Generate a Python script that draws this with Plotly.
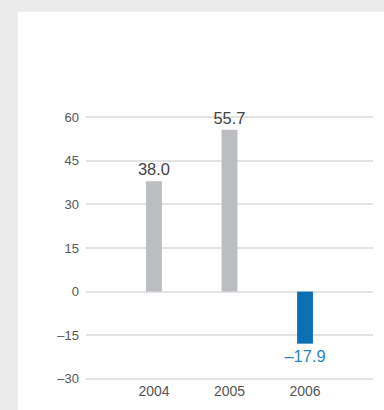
import plotly.graph_objects as go

years = ["2004", "2005", "2006"]
values = [38.0, 55.7, -17.9]
labels = ["38.0", "55.7", "–17.9"]
bar_colors = ["#bcbdc0", "#bcbdc0", "#0a6fb4"]
label_colors = ["#444444", "#444444", "#2b85c6"]
y_tickvals = [-30, -15, 0, 15, 30, 45, 60]
y_ticktext = ["–30", "–15", "0", "15", "30", "45", "60"]

W, H = 384, 410
L, R, T, B = 86, 11, 116, 28
pw, ph = W - L - R, H - T - B

fig = go.Figure()
fig.add_trace(go.Bar(
    x=years, y=values, width=0.21,
    marker=dict(color=bar_colors, line=dict(width=0)),
    text=labels, textposition="outside", cliponaxis=False,
    constraintext="none",
    textfont=dict(size=16.5, color=label_colors, family="Liberation Sans"),
    hoverinfo="skip",
))

# white panel on gray background
fig.add_shape(type="rect", xref="paper", yref="paper", layer="below",
              x0=(18 - L) / pw, x1=(W + 5 - L) / pw,
              y0=(T + ph - (H + 5)) / ph, y1=(T + ph - 11) / ph,
              fillcolor="white", line=dict(width=0))

fig.update_layout(
    width=W, height=H,
    margin=dict(l=L, r=R, t=T, b=B, pad=0),
    paper_bgcolor="#ebebeb", plot_bgcolor="rgba(0,0,0,0)",
    showlegend=False,
    font=dict(family="Liberation Sans", color="#555555"),
    xaxis=dict(range=[-0.9, 2.9], showgrid=False, zeroline=False, showline=False,
               ticks="", tickfont=dict(size=14, color="#555555"),
               ticklabelstandoff=1, fixedrange=True),
    yaxis=dict(range=[-30.4, 60.4], tickvals=y_tickvals, ticktext=y_ticktext,
               showgrid=True, gridcolor="#e3e3e3", gridwidth=1.5,
               zeroline=True, zerolinecolor="#e3e3e3", zerolinewidth=1.5,
               showline=False, ticks="", ticklabelstandoff=6,
               tickfont=dict(size=13, color="#555555"), fixedrange=True),
)

fig.write_html("out.html")
